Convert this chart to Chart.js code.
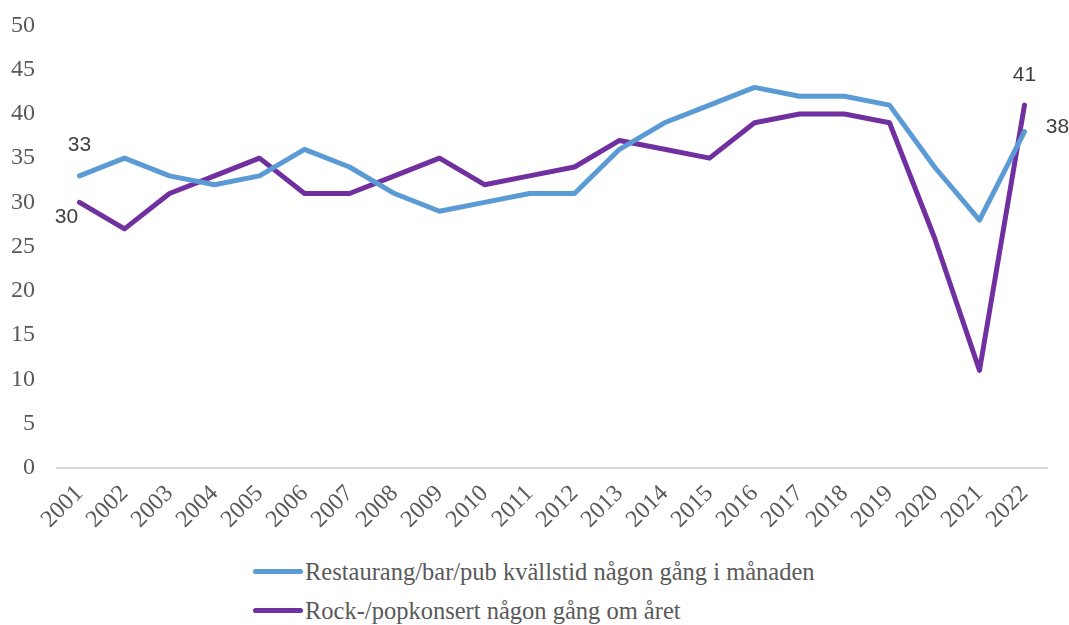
<!DOCTYPE html>
<html>
<head>
<meta charset="utf-8">
<script src="https://cdn.jsdelivr.net/npm/chart.js@4/dist/chart.umd.min.js"></script>
<style>
  html, body { margin: 0; padding: 0; background: #fff; }
  #wrap { position: relative; width: 1069px; height: 625px; overflow: hidden; }
  #chartBox { position: absolute; left: 0; top: 0; width: 1069px; height: 546px; }
  #legend { position: absolute; left: 253px; top: 552px; font-family: "Liberation Serif", "Times New Roman", serif; font-size: 24.5px; color: #595959; }
  .row { display: flex; align-items: center; height: 39px; }
  .swatch { width: 50px; height: 5px; border-radius: 3px; margin-right: 2px; }
</style>
</head>
<body>
<div id="wrap">
  <div id="chartBox"><canvas id="c"></canvas></div>
  <div id="legend"></div>
</div>
<script>
const years = ["2001","2002","2003","2004","2005","2006","2007","2008","2009","2010","2011","2012","2013","2014","2015","2016","2017","2018","2019","2020","2021","2022"];
const restaurangLabel = "Restaurang/bar/pub kvällstid någon gång i månaden";
const restaurang = [33,35,33,32,33,36,34,31,29,30,31,31,36,39,41,43,42,42,41,34,28,38];
const rockLabel = "Rock-/popkonsert någon gång om året";
const rock = [30,27,31,33,35,31,31,33,35,32,33,34,37,36,35,39,40,40,39,26,11,41];
const yTicks = [0,5,10,15,20,25,30,35,40,45,50];

const blue = "#5B9BD5";
const purple = "#7030A0";

// data labels: which point indexes to label, with offsets (style)
const labelSpec = [
  { ds: 0, idx: 0, dx: 0, dy: -31 },
  { ds: 1, idx: 0, dx: -13, dy: 15 },
  { ds: 1, idx: 21, dx: 0, dy: -30 },
  { ds: 0, idx: 21, dx: 33, dy: -4 }
];

const dataLabelPlugin = {
  id: "dlabels",
  afterDatasetsDraw(chart) {
    const ctx = chart.ctx;
    ctx.save();
    ctx.font = '21px "Liberation Sans", Arial, sans-serif';
    ctx.fillStyle = "#404040";
    ctx.textAlign = "center";
    ctx.textBaseline = "middle";
    labelSpec.forEach(s => {
      const pt = chart.getDatasetMeta(s.ds).data[s.idx];
      const v = chart.data.datasets[s.ds].data[s.idx];
      ctx.fillText(String(v), pt.x + s.dx, pt.y + s.dy);
    });
    ctx.restore();
  }
};

const serif = '"Liberation Serif", "Times New Roman", serif';

const chart = new Chart(document.getElementById("c"), {
  type: "line",
  data: {
    labels: years,
    datasets: [
      { label: restaurangLabel, data: restaurang, borderColor: blue, backgroundColor: blue, borderWidth: 5, pointRadius: 0, tension: 0, borderCapStyle: "round", borderJoinStyle: "round" },
      { label: rockLabel, data: rock, borderColor: purple, backgroundColor: purple, borderWidth: 5, pointRadius: 0, tension: 0, borderCapStyle: "round", borderJoinStyle: "round" }
    ]
  },
  options: {
    responsive: true,
    maintainAspectRatio: false,
    animation: false,
    layout: { padding: { left: 11, right: 22, top: 25.5, bottom: 0 } },
    plugins: { legend: { display: false }, tooltip: { enabled: false } },
    scales: {
      x: {
        offset: true,
        grid: { display: false, drawTicks: false },
        border: { display: true, color: "#D9D9D9", width: 2 },
        afterFit(scale) { scale.paddingLeft = 0; scale.paddingRight = 0; },
        ticks: {
          minRotation: 45, maxRotation: 45, autoSkip: false, padding: 12,
          color: "#595959",
          font: { family: serif, size: 24 }
        }
      },
      y: {
        min: 0, max: 50,
        afterBuildTicks(scale) { scale.ticks = yTicks.map(v => ({ value: v })); },
        afterFit(scale) { scale.width = 46; scale.paddingTop = 0; scale.paddingBottom = 0; },
        grid: { display: false, drawTicks: false },
        border: { display: false },
        ticks: {
          padding: 22,
          color: "#595959",
          font: { family: serif, size: 24 }
        }
      }
    }
  },
  plugins: [dataLabelPlugin]
});

// HTML legend built from datasets
const legendEl = document.getElementById("legend");
chart.data.datasets.forEach(ds => {
  const row = document.createElement("div");
  row.className = "row";
  const sw = document.createElement("span");
  sw.className = "swatch";
  sw.style.background = ds.borderColor;
  const tx = document.createElement("span");
  tx.textContent = ds.label;
  row.appendChild(sw);
  row.appendChild(tx);
  legendEl.appendChild(row);
});
</script>
</body>
</html>
